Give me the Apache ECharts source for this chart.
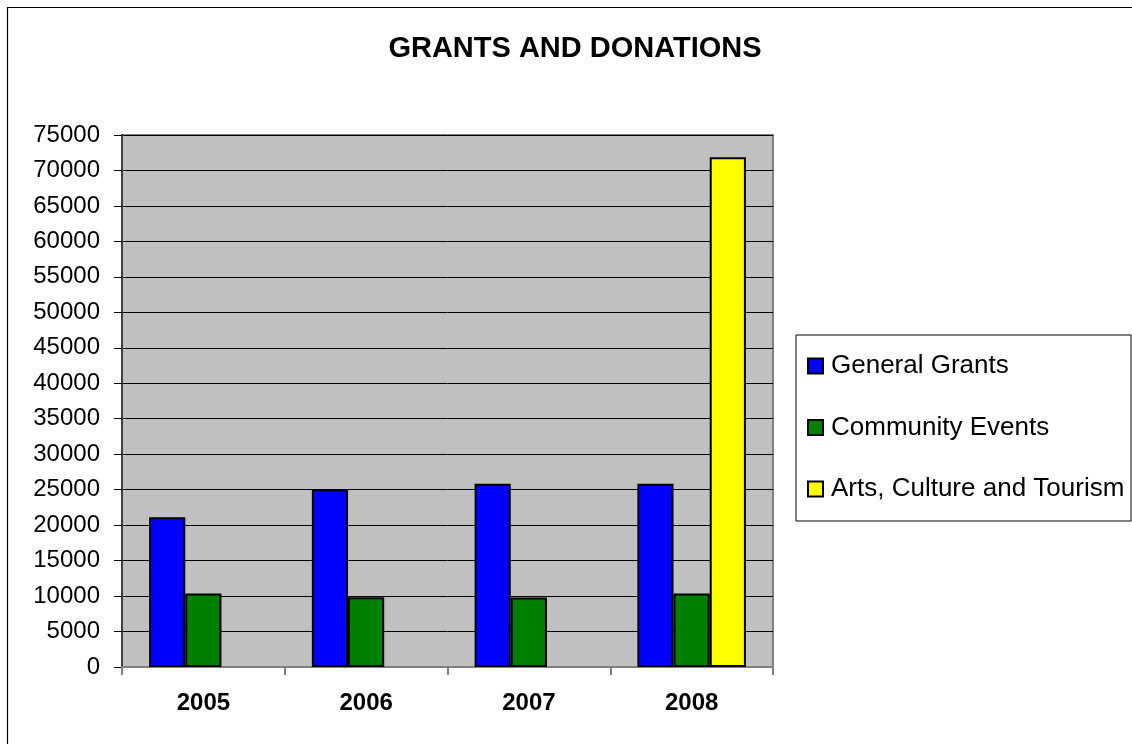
<!DOCTYPE html>
<html>
<head>
<meta charset="utf-8">
<title>Grants and Donations</title>
<script src="https://cdn.jsdelivr.net/npm/echarts@6/dist/echarts.min.js"></script>
<style>
  html, body { margin: 0; padding: 0; background: #fff; }
  #chart { width: 1132px; height: 744px; }
</style>
</head>
<body>
<div id="chart"></div>
<script>
// Years on the category axis
const years = ['2005', '2006', '2007', '2008'];

// Amounts per program and year (null = no entry that year)
const generalGrants = [21100, 25050, 25850, 25850];
const communityEvents = [10350, 9850, 9800, 10350];
const artsCultureTourism = [null, null, null, 71850];

const seriesNames = ['General Grants', 'Community Events', 'Arts, Culture and Tourism'];
const seriesColors = ['#0000ff', '#008000', '#ffff00'];

const FONT = '"Liberation Sans", Arial, sans-serif';

const chart = echarts.init(document.getElementById('chart'), null, { renderer: 'canvas' });

function barSeries(name, data, color) {
  return {
    name: name,
    type: 'bar',
    data: data,
    barGap: '0%',
    barCategoryGap: '33.3%',
    itemStyle: { color: color, borderColor: '#000', borderWidth: 2 },
    emphasis: { disabled: true }
  };
}

chart.setOption({
  animation: false,
  backgroundColor: '#ffffff',
  textStyle: { fontFamily: FONT },
  title: {
    text: 'GRANTS AND DONATIONS',
    left: 575,
    top: 34,
    padding: 0,
    textAlign: 'center',
    textStyle: { fontFamily: FONT, fontSize: 29, fontWeight: 'bold', color: '#000', lineHeight: 29 }
  },
  graphic: [
    {
      type: 'rect', silent: true, z: -10,
      shape: { x: 7.5, y: 7.5, width: 1200, height: 800 },
      style: { fill: 'none', stroke: '#000', lineWidth: 1.2 }
    },
    {
      type: 'rect', silent: true, z: -5,
      shape: { x: 796, y: 335, width: 335, height: 186 },
      style: { fill: '#fff', stroke: '#000', lineWidth: 1 }
    }
  ],
  legend: {
    orient: 'vertical',
    left: 807,
    top: 353,
    padding: 0,
    itemWidth: 15,
    itemHeight: 15,
    itemGap: 35.5,
    icon: 'rect',
    selectedMode: false,
    data: seriesNames,
    textStyle: { fontFamily: FONT, fontSize: 26, color: '#000', lineHeight: 25, padding: [0, 0, 0, 3] }
  },
  grid: {
    left: 122, top: 135, right: 359, bottom: 77,
    show: true,
    backgroundColor: '#c0c0c0',
    borderColor: '#808080',
    borderWidth: 2
  },
  xAxis: {
    type: 'category',
    data: years,
    axisLine: { lineStyle: { color: '#808080', width: 2 } },
    axisTick: { show: true, length: 8, lineStyle: { color: '#808080', width: 2 } },
    axisLabel: { fontFamily: FONT, fontSize: 24, fontWeight: 'bold', color: '#000', margin: 24 },
    splitLine: { show: false }
  },
  yAxis: {
    type: 'value',
    min: 0,
    max: 75000,
    interval: 5000,
    axisLine: { show: true, lineStyle: { color: '#404040', width: 2 } },
    axisTick: { show: true, length: 8, lineStyle: { color: '#000', width: 1 } },
    axisLabel: {
      fontFamily: FONT, fontSize: 24, color: '#000', margin: 22,
      formatter: function (v) { return String(v); }
    },
    splitLine: { show: true, lineStyle: { color: '#000', width: 1 } }
  },
  series: [
    barSeries(seriesNames[0], generalGrants, seriesColors[0]),
    barSeries(seriesNames[1], communityEvents, seriesColors[1]),
    barSeries(seriesNames[2], artsCultureTourism, seriesColors[2])
  ]
});
</script>
</body>
</html>
